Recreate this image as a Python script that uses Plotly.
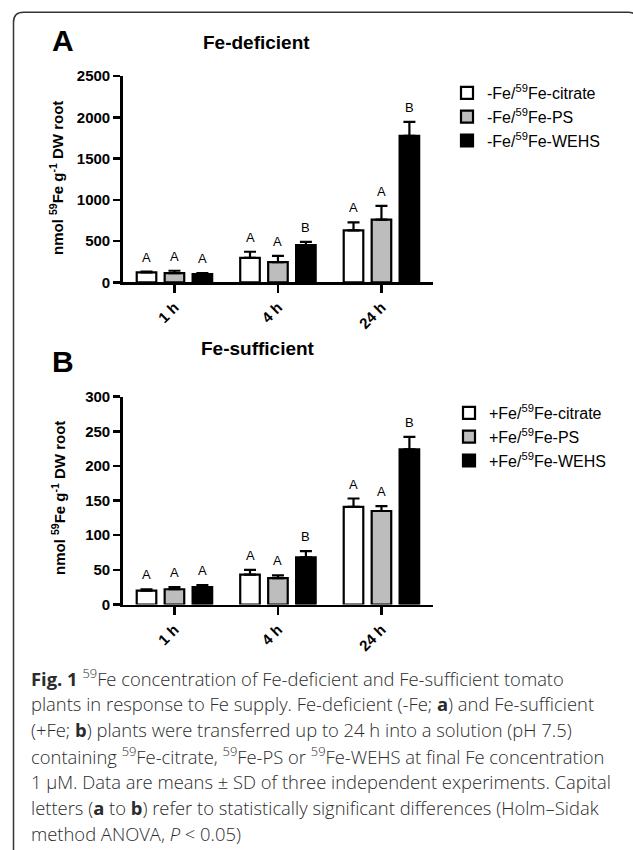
import plotly.graph_objects as go

# ---------------- data ----------------
times = ["1 h", "4 h", "24 h"]

# Panel A: Fe-deficient (nmol 59Fe g-1 DW root)
a_names = ["-Fe/<sup>59</sup>Fe-citrate", "-Fe/<sup>59</sup>Fe-PS", "-Fe/<sup>59</sup>Fe-WEHS"]
a_citrate = [120, 295, 630]
a_ps = [110, 245, 760]
a_wehs = [100, 450, 1775]
a_citrate_sd = [10, 75, 95]
a_ps_sd = [30, 75, 165]
a_wehs_sd = [12, 40, 170]
a_letters = [["A", "A", "A"], ["A", "A", "B"], ["A", "A", "B"]]  # [time][series]

# Panel B: Fe-sufficient
b_names = ["+Fe/<sup>59</sup>Fe-citrate", "+Fe/<sup>59</sup>Fe-PS", "+Fe/<sup>59</sup>Fe-WEHS"]
b_citrate = [20, 43, 141]
b_ps = [22, 38, 135]
b_wehs = [25, 68, 224]
b_citrate_sd = [2, 7, 12]
b_ps_sd = [3, 4, 7]
b_wehs_sd = [3, 9, 18]
b_letters = [["A", "A", "A"], ["A", "A", "B"], ["A", "A", "B"]]

a_ticks = [0, 500, 1000, 1500, 2000, 2500]
b_ticks = [0, 50, 100, 150, 200, 250, 300]

caption_lines = [
    "<b>Fig. 1</b> <sup>59</sup>Fe concentration of Fe-deficient and Fe-sufficient tomato",
    "plants in response to Fe supply. Fe-deficient (-Fe; <b>a</b>) and Fe-sufficient",
    "(+Fe; <b>b</b>) plants were transferred up to 24 h into a solution (pH 7.5)",
    "containing <sup>59</sup>Fe-citrate, <sup>59</sup>Fe-PS or <sup>59</sup>Fe-WEHS at final Fe concentration",
    "1 μM. Data are means ± SD of three independent experiments. Capital",
    "letters (<b>a</b> to <b>b</b>) refer to statistically significant differences (Holm–Sidak",
    "method ANOVA, <i>P</i> &lt; 0.05)",
]

# ---------------- layout helpers ----------------
W, H = 633, 850
def px(x):
    return x / W
def py(y):
    return 1 - y / H

FILLS = ["white", "#bdbdbd", "black"]
FONT = "Liberation Sans, Arial, sans-serif"
BARGAP = 0.19
BARGROUPGAP = 0.3
slot = (1 - BARGAP) / 3
xpos = list(range(len(times)))

fig = go.Figure()

panels = [
    dict(names=a_names, vals=[a_citrate, a_ps, a_wehs], sds=[a_citrate_sd, a_ps_sd, a_wehs_sd],
         letters=a_letters, xa="x", ya="y", legend="legend"),
    dict(names=b_names, vals=[b_citrate, b_ps, b_wehs], sds=[b_citrate_sd, b_ps_sd, b_wehs_sd],
         letters=b_letters, xa="x2", ya="y2", legend="legend2"),
]

annotations = []
for p in panels:
    for k in range(3):
        fig.add_trace(go.Bar(
            x=xpos, y=p["vals"][k], name=p["names"][k],
            xaxis=p["xa"], yaxis=p["ya"], legend=p["legend"],
            marker=dict(color=FILLS[k], line=dict(color="black", width=2.2)),
            error_y=dict(type="data", array=p["sds"][k], arrayminus=[0] * len(times),
                         symmetric=False, color="black", thickness=2.2, width=6),
        ))
        for i in range(len(times)):
            annotations.append(dict(
                x=i + (k - 1) * slot, y=p["vals"][k][i] + p["sds"][k][i],
                xref=p["xa"], yref=p["ya"], text=p["letters"][i][k], showarrow=False,
                yanchor="bottom", yshift=5, font=dict(family=FONT, size=13, color="black"),
            ))

axis_common = dict(showline=True, linecolor="black", linewidth=2.5, ticks="outside",
                   tickcolor="black", tickwidth=2.5, showgrid=False, zeroline=False,
                   automargin=False)

xaxis_common = dict(axis_common, type="linear", range=[-0.5, 2.5], tickvals=xpos, ticktext=times,
                    tickangle=-45, ticklen=8,
                    tickfont=dict(family=FONT, size=15, color="black", weight="bold"))

fig.update_layout(
    width=W, height=H, margin=dict(l=0, r=0, t=0, b=0, autoexpand=False),
    paper_bgcolor="white", plot_bgcolor="white",
    barmode="group", bargap=BARGAP, bargroupgap=BARGROUPGAP,
    showlegend=True,
    xaxis=dict(xaxis_common, domain=[px(122.7), px(433.2)], anchor="y"),
    yaxis=dict(axis_common, domain=[py(282.3), py(76)], range=[0, 2500], tickvals=a_ticks,
               ticklen=7, anchor="x",
               tickfont=dict(family=FONT, size=15, color="black", weight="bold")),
    xaxis2=dict(xaxis_common, domain=[px(122.7), px(433.2)], anchor="y2"),
    yaxis2=dict(axis_common, domain=[py(604.5), py(396.7)], range=[0, 300], tickvals=b_ticks,
                ticklen=7, anchor="x2",
                tickfont=dict(family=FONT, size=15, color="black", weight="bold")),
    legend=dict(x=px(447), y=py(76), xanchor="left", yanchor="top",
                font=dict(family=FONT, size=16, color="black"), bgcolor="rgba(0,0,0,0)",
                tracegroupgap=0, itemwidth=30),
    legend2=dict(x=px(449), y=py(396), xanchor="left", yanchor="top",
                 font=dict(family=FONT, size=16, color="black"), bgcolor="rgba(0,0,0,0)",
                 tracegroupgap=0, itemwidth=30),
)

# panel letters, titles, y titles
ytitle = "nmol <sup>59</sup>Fe g<sup>-1</sup> DW root"
texts = [
    dict(x=px(63), y=py(40), text="A", font=dict(family=FONT, size=30, color="black", weight="bold")),
    dict(x=px(63), y=py(361), text="B", font=dict(family=FONT, size=30, color="black", weight="bold")),
    dict(x=px(256), y=py(43), text="Fe-deficient",
         font=dict(family=FONT, size=19, color="black", weight="bold")),
    dict(x=px(258), y=py(348), text="Fe-sufficient",
         font=dict(family=FONT, size=19, color="black", weight="bold")),
    dict(x=px(56), y=py(178), text=ytitle, textangle=-90,
         font=dict(family=FONT, size=15, color="black", weight="bold")),
    dict(x=px(58), y=py(498), text=ytitle, textangle=-90,
         font=dict(family=FONT, size=15, color="black", weight="bold")),
]
for t in texts:
    annotations.append(dict(t, xref="paper", yref="paper", showarrow=False,
                            xanchor="center", yanchor="middle"))

for j, line in enumerate(caption_lines):
    annotations.append(dict(x=px(29), y=py(677 + 26 * j), xref="paper", yref="paper",
                            text=line, showarrow=False, xanchor="left", yanchor="middle",
                            font=dict(family="Open Sans, sans-serif", size=18.4,
                                      color="#2b2b2b", weight=300)))

fig.update_layout(annotations=annotations)

# rounded frame (left and top edges visible; right/bottom run off the canvas)
r = 10
x0, y0 = 13.5, 12.3
path = (f"M {px(x0)},{py(856)} L {px(x0)},{py(y0 + r)} "
        f"Q {px(x0)},{py(y0)} {px(x0 + r)},{py(y0)} L {px(628)},{py(y0)} "
        f"Q {px(638)},{py(y0)} {px(638)},{py(y0 + r)}")
fig.add_shape(type="path", path=path, xref="paper", yref="paper",
              line=dict(color="#333333", width=1.5))

fig.write_html(
    "out.html",
    config={"displayModeBar": False, "staticPlot": True},
    post_script=("document.documentElement.style.margin='0';"
                 "document.body.style.margin='0';document.body.style.overflow='hidden';"
                 "var gd=document.getElementById('{plot_id}');"
                 "gd.style.position='fixed';gd.style.top='0px';gd.style.left='0px';"),
)
